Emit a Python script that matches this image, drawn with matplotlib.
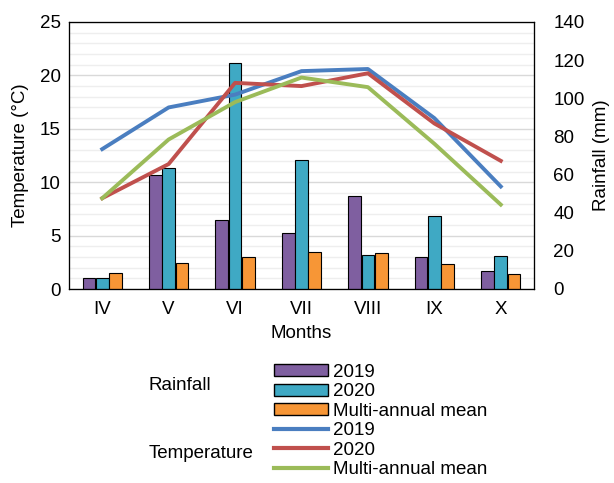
"""
    Rainfall and temperature by month (IV-X), 2019, 2020 and multi-annual mean
"""
import matplotlib
matplotlib.use('Agg')
import matplotlib.pyplot as plt
from matplotlib.patches import Patch
from matplotlib.lines import Line2D
import numpy as np

months = ['IV', 'V', 'VI', 'VII', 'VIII', 'IX', 'X']

rain_2019 = [6, 60, 36, 29.5, 49, 17, 9.3]
rain_2020 = [6, 63.5, 118.5, 67.5, 18, 38.5, 17.3]
rain_mean = [8.4, 13.8, 17, 19.6, 18.7, 13, 7.7]

temp_2019 = [13.1, 17.0, 18.2, 20.4, 20.6, 16.0, 9.6]
temp_2020 = [8.5, 11.7, 19.3, 19.0, 20.2, 15.5, 12.0]
temp_mean = [8.5, 14.0, 17.5, 19.8, 18.9, 13.6, 7.9]

c_purple = '#7f5fa0'
c_cyan = '#3fa9c4'
c_orange = '#f79636'
c_blue = '#4a7ec0'
c_red = '#c0504d'
c_green = '#9bbb59'

plt.rcParams['font.family'] = ['Liberation Sans', 'DejaVu Sans']
fs = 13.5

fig = plt.figure(figsize=(6.14, 4.83), dpi=100)
rect = [69 / 614, 1 - 289 / 483, 465 / 614, 267 / 483]

# bottom layer: temperature scale, grid and left labels
ax_t = fig.add_axes(rect)
ax_t.set_ylim(0, 25)
ax_t.set_yticks(range(0, 26, 5))
ax_t.set_yticks(range(0, 26, 1), minor=True)
ax_t.grid(which='major', axis='y', color='#d9d9d9', lw=1)
ax_t.grid(which='minor', axis='y', color='#eeeeee', lw=1)
ax_t.set_axisbelow(True)
ax_t.tick_params(which='both', length=0, labelsize=fs, pad=6)
ax_t.set_ylabel('Temperature (°C)', fontsize=fs, labelpad=8)

x = np.arange(len(months))
ax_t.set_xlim(-0.5, len(months) - 0.5)
ax_t.set_xticks(x)
ax_t.set_xticklabels(months, fontsize=fs)
ax_t.tick_params(axis='x', pad=9)
ax_t.set_xlabel('Months', fontsize=fs, labelpad=5)

# middle layer: rainfall bars
ax_r = ax_t.twinx()
ax_r.set_ylim(0, 140)
ax_r.set_yticks(range(0, 141, 20))
ax_r.tick_params(length=0, labelsize=fs, pad=14)
ax_r.set_ylabel('Rainfall (mm)', fontsize=fs, labelpad=6)
w = 0.19
ax_r.bar(x - 0.2, rain_2019, w, color=c_purple, edgecolor='black', lw=0.8)
ax_r.bar(x, rain_2020, w, color=c_cyan, edgecolor='black', lw=0.8)
ax_r.bar(x + 0.2, rain_mean, w, color=c_orange, edgecolor='black', lw=0.8)

# top layer: temperature lines
ax_l = ax_t.twinx()
ax_l.set_ylim(0, 25)
ax_l.set_yticks([])
ax_l.plot(x, temp_2019, color=c_blue, lw=2.8)
ax_l.plot(x, temp_2020, color=c_red, lw=2.8)
ax_l.plot(x, temp_mean, color=c_green, lw=2.8)

for a in (ax_t, ax_r, ax_l):
    for s in a.spines.values():
        s.set_color('black')
        s.set_linewidth(0.8)

handles = [
    Patch(facecolor=c_purple, edgecolor='black'),
    Patch(facecolor=c_cyan, edgecolor='black'),
    Patch(facecolor=c_orange, edgecolor='black'),
    Line2D([], [], color=c_blue, lw=3),
    Line2D([], [], color=c_red, lw=3),
    Line2D([], [], color=c_green, lw=3),
]
labels = ['2019', '2020', 'Multi-annual mean', '2019', '2020', 'Multi-annual mean']
fig.legend(handles, labels, loc='upper left', bbox_to_anchor=(274 / 614, 1 - 364 / 483),
           frameon=False, fontsize=fs, handlelength=2.9, handleheight=0.6,
           handletextpad=0.25, labelspacing=0.13, borderpad=0, borderaxespad=0)
fig.text(149 / 614, 1 - 386 / 483, 'Rainfall', fontsize=fs, va='center')
fig.text(149 / 614, 1 - 453 / 483, 'Temperature', fontsize=fs, va='center')

fig.savefig('out.png', dpi=100)
